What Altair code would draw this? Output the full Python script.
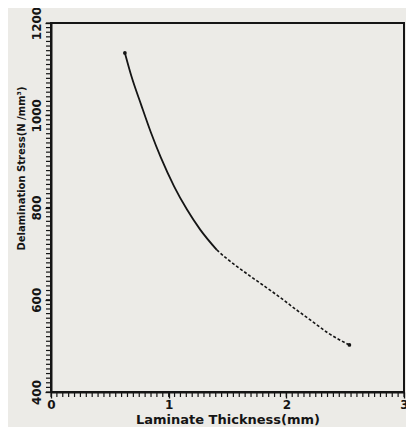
import altair as alt
import pandas as pd

thickness = [0.628, 0.683, 0.767, 0.850, 0.934, 1.046, 1.157, 1.268, 1.409, 1.49,
             1.576, 1.70, 1.80, 1.937, 2.076, 2.216, 2.354, 2.536]
stress = [1135, 1085, 1022, 962, 908, 846, 795, 752, 708, 690,
          673, 650, 632, 607, 580, 554, 528, 502]
split_at = 1.409

df = pd.DataFrame({"x": thickness, "y": stress})
solid = df[df.x <= split_at]
dashed = df[df.x >= split_at]
ends = df.iloc[[0, -1]]

font = "DejaVu Sans"
ink = "#151515"
xs = alt.Scale(domain=[0, 3], nice=False)
ys = alt.Scale(domain=[400, 1200], nice=False)

xax = alt.Axis(values=[0, 1, 2, 3], title="Laminate Thickness(mm)", grid=False, format="d",
               labelFont=font, labelFontSize=12, labelFontWeight="bold", labelColor=ink,
               titleFont=font, titleFontSize=13, titleFontWeight="bold", titleColor=ink,
               tickColor=ink, domainColor=ink, domainWidth=2, tickSize=6, tickWidth=1.3,
               labelPadding=1, titlePadding=3, labelFlush=False)
yax = alt.Axis(values=[400, 600, 800, 1000, 1200], title="Delamination Stress(N /mm³)", grid=False,
               format="d",
               labelFont=font, labelFontSize=12, labelFontWeight="bold", labelColor=ink,
               labelAngle=270, labelAlign="center", labelBaseline="bottom", labelPadding=2,
               titleFont=font, titleFontSize=10, titleFontWeight="bold", titleColor=ink,
               titleY=145, titlePadding=4,
               tickColor=ink, domainColor=ink, domainWidth=2, tickSize=6, tickWidth=1.3,
               labelFlush=False)

minor_x = pd.DataFrame({"x": [i * 0.05 for i in range(61)]})
minor_y = pd.DataFrame({"y": [400 + i * 10 for i in range(81)]})

line1 = alt.Chart(solid).mark_line(color=ink, strokeWidth=1.8, interpolate="monotone").encode(
    x=alt.X("x:Q", scale=xs, axis=xax), y=alt.Y("y:Q", scale=ys, axis=yax))
line2 = alt.Chart(dashed).mark_line(color=ink, strokeWidth=1.6, strokeDash=[3, 2],
                                    interpolate="monotone").encode(
    x=alt.X("x:Q", scale=xs), y=alt.Y("y:Q", scale=ys))
pts = alt.Chart(ends).mark_point(filled=True, color=ink, size=14, opacity=1).encode(
    x=alt.X("x:Q", scale=xs), y=alt.Y("y:Q", scale=ys))
mx = alt.Chart(minor_x).mark_rule(color=ink, strokeWidth=1.2).encode(
    x=alt.X("x:Q", scale=xs), y=alt.value(369), y2=alt.value(374))
my = alt.Chart(minor_y).mark_rule(color=ink, strokeWidth=1.2).encode(
    y=alt.Y("y:Q", scale=ys), x=alt.value(-5), x2=alt.value(0))

chart = alt.layer(my, mx, line1, line2, pts).properties(
    width=353, height=369,
    background="#ecebe7",
    padding={"left": 43, "top": 15, "right": 2, "bottom": 35},
    autosize=alt.AutoSizeParams(type="none"),
).configure_view(stroke=ink, strokeWidth=2)

chart.save("out.html", embed_options={"renderer": "svg", "actions": False})
